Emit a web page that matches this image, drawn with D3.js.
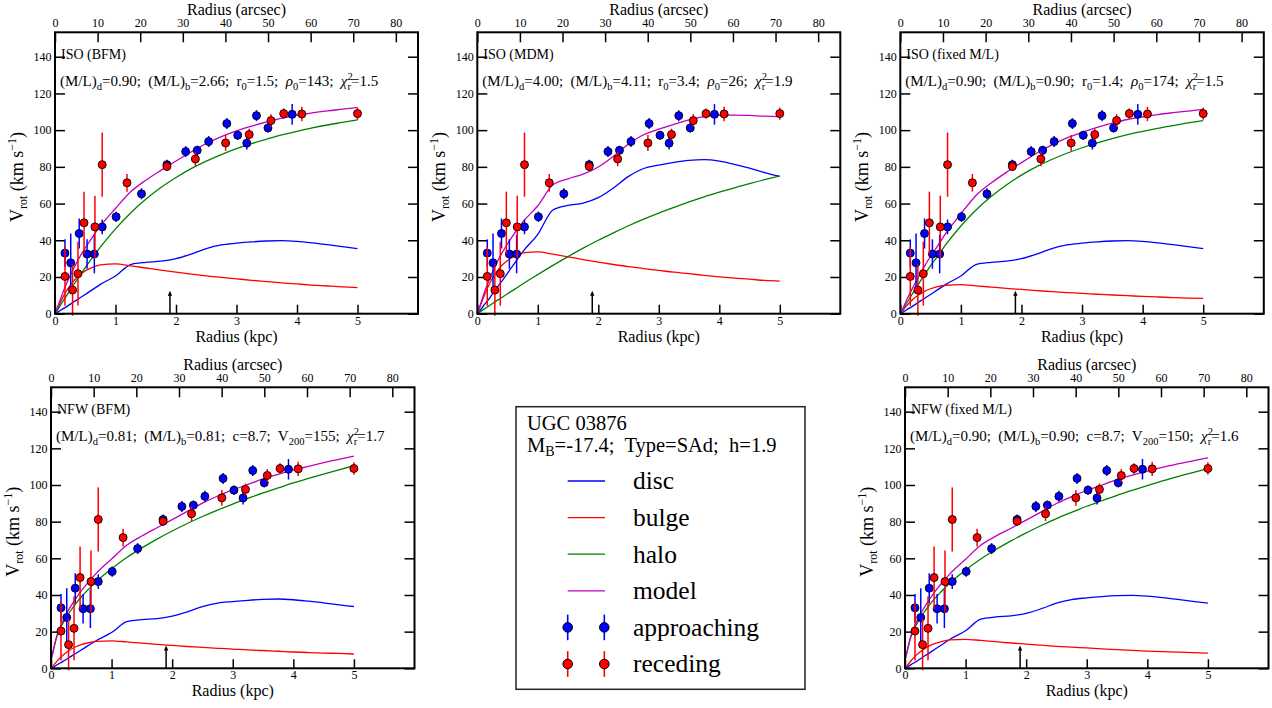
<!DOCTYPE html>
<html>
<head>
<meta charset="utf-8">
<script src="https://cdn.jsdelivr.net/npm/d3@7"></script>
<style>
  html, body { margin: 0; padding: 0; background: #fff; }
  svg { display: block; }
  svg text { font-family: "Liberation Serif", "Times New Roman", serif; fill: #000; }
</style>
</head>
<body>
<svg id="chart" width="1272" height="708" font-family="Liberation Serif"></svg>
<script>
// ---------------- data ----------------
const radiusGrid = [0.01,0.1,0.2,0.3,0.4,0.5,0.6,0.75,1.0,1.25,1.5,1.75,2.0,2.25,2.5,2.75,3.0,3.25,3.5,3.75,4.0,4.25,4.5,4.75,5.0];

const discML090 = [0,2,4,6.2,8.3,10.5,12.7,16,20.5,26.8,28,28.6,30,32.5,35.5,37.5,38.4,39.1,39.6,39.8,39.4,38.6,37.6,36.5,35.5];
const discML400 = [0,4.2,8.4,13.1,17.5,22.1,26.8,33.7,43.2,56.5,59.0,60.3,63.2,68.5,74.8,79.1,80.9,82.4,83.5,83.9,83.1,81.4,79.3,76.9,74.8];
const discML081 = [0,1.9,3.8,5.9,7.9,10.0,12.1,15.2,19.5,25.4,26.6,27.1,28.5,30.8,33.7,35.6,36.4,37.1,37.6,37.8,37.4,36.6,35.7,34.6,33.7];

const bulgeML266 = [0.5,7,13,17.5,21,23.3,25,26.6,27.1,26.1,24.9,23.7,22.6,21.6,20.6,19.8,19.0,18.2,17.5,16.8,16.2,15.6,15.1,14.6,14.2];
const bulgeML411 = [0.6,8.7,16.2,21.8,26.1,29.0,31.1,33.1,33.7,32.4,31.0,29.5,28.1,26.8,25.6,24.6,23.6,22.6,21.8,20.9,20.1,19.4,18.8,18.1,17.7];
const bulgeML090 = [0.3,4.1,7.6,10.2,12.2,13.6,14.6,15.5,15.8,15.2,14.5,13.8,13.2,12.6,12.0,11.5,11.1,10.6,10.2,9.8,9.4,9.1,8.8,8.5,8.3];
const bulgeML081 = [0.3,3.9,7.2,9.7,11.6,12.9,13.8,14.7,15.0,14.4,13.7,13.1,12.5,11.9,11.4,10.9,10.5,10.0,9.7,9.3,8.9,8.6,8.3,8.1,7.8];

const haloIsoBFM   = [0,5.2,10.3,15.3,20.3,25.1,29.7,36.3,46.2,54.9,62.3,68.7,74.2,79.0,83.1,86.7,89.9,92.7,95.1,97.4,99.3,101.2,102.8,104.2,105.6];
const haloIsoMDM   = [0.2,2.2,4.4,6.6,8.7,10.9,13.0,16.2,21.3,26.3,31.1,35.7,40.0,44.0,47.9,51.5,54.8,57.9,60.9,63.7,66.2,68.6,70.9,73.0,75.0];
const haloIsoFixed = [0,5.4,10.8,16.1,21.2,26.2,30.5,37.6,47.8,56.5,63.8,70.1,75.5,80.1,84.0,87.4,90.4,93.1,95.4,97.5,99.3,101.0,102.5,103.9,105.2];
const haloNfwBFM   = [5.6,17.6,24.8,30.3,34.9,38.9,42.5,47.4,54.3,60.4,65.7,70.5,74.9,79.0,82.8,86.3,89.6,92.7,95.7,98.4,101.1,103.6,106.0,108.3,110.5];
const haloNfwFixed = [5.5,17.4,24.5,29.9,34.4,38.4,41.9,46.8,53.6,59.6,64.8,69.5,73.9,77.9,81.7,85.1,88.4,91.4,94.4,97.1,99.7,102.2,104.6,106.8,109.0];

const modelIsoBFM   = [0.5,8.9,17.1,24.1,30.4,35.8,40.8,47.8,57.3,66.4,72.7,78.1,83.2,88.1,92.7,96.5,99.6,102.2,104.5,106.6,108.0,109.4,110.5,111.4,112.3];
const modelIsoMDM   = [0.6,9.9,18.8,26.3,32.6,38.1,43.1,49.9,58.8,70.2,73.5,76.0,79.9,85.7,92.4,97.5,100.5,103.2,105.6,107.4,108.1,108.2,108.0,107.6,107.4];
const modelIsoFixed = [0.3,7.1,13.8,20.0,25.8,31.3,36.1,43.7,54.4,64.4,71.2,77.0,82.3,87.4,92.0,95.8,98.8,101.5,103.8,105.8,107.2,108.5,109.5,110.4,111.3];
const modelNfwBFM   = [5.6,18.1,26.1,32.4,37.6,42.2,46.3,51.9,59.6,67.1,72.2,76.7,81.1,85.6,90.1,94.0,97.3,100.3,103.3,105.8,108.2,110.2,112.2,114.0,115.8];
const modelNfwFixed = [5.5,18.0,26.0,32.2,37.4,42.1,46.2,51.8,59.5,67.1,72.1,76.4,80.8,85.3,89.9,93.7,97.0,100.0,102.9,105.4,107.6,109.6,111.5,113.2,114.9];

const approachR = [0.165,0.26,0.40,0.53,0.65,0.78,1.01,1.43,1.85,2.16,2.35,2.54,2.84,3.02,3.17,3.33,3.52,3.92];
const approachV = [33.0,27.7,43.7,32.5,32.5,47.3,52.8,65.3,81.2,88.3,89.0,93.8,103.6,97.2,92.9,107.9,101.2,108.6];
const approachE = [7.5,16,8.2,8,10.5,4,2.8,3,2.7,3,2.5,3,3,2.5,3.5,3,2.5,5.6];

const recedeR = [0.165,0.29,0.38,0.48,0.66,0.78,1.19,1.85,2.32,2.82,3.21,3.57,3.78,4.08,5.0];
const recedeV = [20.3,12.9,21.8,49.5,47.3,81.2,71.3,80.2,84.3,93.0,97.6,105.2,109.0,108.8,109.0];
const recedeE = [16,14,17.4,17,17,17.5,4.8,2.5,4,4.3,3.2,3.5,2.8,3.9,3.4];

const kpcTicks = [0,1,2,3,4,5];
const arcsecTicks = [0,10,20,30,40,50,60,70,80];
const velTicks = [0,20,40,60,80,100,120,140];
const xDomain = [0, 6];
const yDomain = [0, 153.3];
const arcsecPerKpc = 14.2;
const scaleLength = 1.9;
const arrowTop = 12.5;

const legendNames = ["disc","bulge","halo","model","approaching","receding"];
const colors = { disc: "#0000ff", bulge: "#ff0000", halo: "#008000", model: "#c000c0", approaching: "#0000ff", receding: "#ff0000" };

// parameter text segments: plain strings, {sub}, {sup}, {it}, {supsub:[sup,sub]}
const panels = [
  { box: [55, 32.3, 363, 281.4], title: "ISO (BFM)",
    params: ["(M/L)",{sub:"d"},"=0.90;  (M/L)",{sub:"b"},"=2.66;  r",{sub:"0"},"=1.5;  ",{it:"ρ"},{sub:"0"},"=143;  ",{it:"χ"},{supsub:["2","r"]},"=1.5"],
    disc: discML090, bulge: bulgeML266, halo: haloIsoBFM, model: modelIsoBFM },
  { box: [477.3, 32.3, 363, 281.4], title: "ISO (MDM)",
    params: ["(M/L)",{sub:"d"},"=4.00;  (M/L)",{sub:"b"},"=4.11;  r",{sub:"0"},"=3.4;  ",{it:"ρ"},{sub:"0"},"=26;  ",{it:"χ"},{supsub:["2","r"]},"=1.9"],
    disc: discML400, bulge: bulgeML411, halo: haloIsoMDM, model: modelIsoMDM },
  { box: [900.3, 32.3, 363.5, 281.4], title: "ISO (fixed M/L)",
    params: ["(M/L)",{sub:"d"},"=0.90;  (M/L)",{sub:"b"},"=0.90;  r",{sub:"0"},"=1.4;  ",{it:"ρ"},{sub:"0"},"=174;  ",{it:"χ"},{supsub:["2","r"]},"=1.5"],
    disc: discML090, bulge: bulgeML090, halo: haloIsoFixed, model: modelIsoFixed },
  { box: [51, 387.3, 363.5, 281], title: "NFW (BFM)",
    params: ["(M/L)",{sub:"d"},"=0.81;  (M/L)",{sub:"b"},"=0.81;  c=8.7;  V",{sub:"200"},"=155;  ",{it:"χ"},{supsub:["2","r"]},"=1.7"],
    disc: discML081, bulge: bulgeML081, halo: haloNfwBFM, model: modelNfwBFM },
  { box: [905, 387.3, 363.5, 281], title: "NFW (fixed M/L)",
    params: ["(M/L)",{sub:"d"},"=0.90;  (M/L)",{sub:"b"},"=0.90;  c=8.7;  V",{sub:"200"},"=150;  ",{it:"χ"},{supsub:["2","r"]},"=1.6"],
    disc: discML090, bulge: bulgeML090, halo: haloNfwFixed, model: modelNfwFixed }
];

const galaxyName = "UGC 03876";
const galaxyInfo = ["M",{sub:"B"},"=-17.4;  Type=SAd;  h=1.9"];

// ---------------- helpers ----------------
const svg = d3.select("#chart");

function richText(sel, segs, size, subSize) {
  sel.attr("xml:space", "preserve").style("white-space", "pre").attr("font-size", size);
  let shift = 0; // current baseline offset
  segs.forEach(s => {
    if (typeof s === "string") {
      sel.append("tspan").attr("dy", -shift).text(s); shift = 0;
    } else if (s.it) {
      sel.append("tspan").attr("dy", -shift).attr("font-style", "italic").text(s.it); shift = 0;
    } else if (s.sub) {
      sel.append("tspan").attr("dy", 4 - shift).attr("font-size", subSize).text(s.sub); shift = 4;
    } else if (s.sup) {
      sel.append("tspan").attr("dy", -6 - shift).attr("font-size", subSize).text(s.sup); shift = -6;
    } else if (s.supsub) {
      sel.append("tspan").attr("dy", -6 - shift).attr("font-size", subSize).text(s.supsub[0]);
      sel.append("tspan").attr("dy", 10).attr("dx", -subSize * 0.5).attr("font-size", subSize).text(s.supsub[1]);
      shift = 4;
    }
  });
  if (shift !== 0) sel.append("tspan").attr("dy", -shift).text("");
}

function styleAxis(g) {
  g.select(".domain").remove();
  g.selectAll(".tick line").attr("stroke", "#000").attr("stroke-width", 1.5);
  g.selectAll(".tick text").attr("font-family", "Liberation Serif, serif").attr("font-size", 12).attr("fill", "#000");
  g.attr("font-family", null).attr("font-size", null);
}

// ---------------- panels ----------------
panels.forEach(p => {
  const [x0, y0, w, h] = p.box;
  const g = svg.append("g").attr("transform", `translate(${x0},${y0})`);
  const xs = d3.scaleLinear().domain(xDomain).range([0, w]);
  const xa = d3.scaleLinear().domain([xDomain[0] * arcsecPerKpc, xDomain[1] * arcsecPerKpc]).range([0, w]);
  const ys = d3.scaleLinear().domain(yDomain).range([h, 0]);

  // axes (inward ticks)
  g.append("g").attr("transform", `translate(0,${h})`)
    .call(d3.axisBottom(xs).tickValues(kpcTicks).tickFormat(d3.format("d")).tickSize(-9).tickSizeOuter(0).tickPadding(2.5))
    .call(styleAxis);
  g.append("g")
    .call(d3.axisTop(xa).tickValues(arcsecTicks).tickFormat(d3.format("d")).tickSize(-10).tickSizeOuter(0).tickPadding(5.5))
    .call(styleAxis);
  g.append("g")
    .call(d3.axisLeft(ys).tickValues(velTicks).tickFormat(d3.format("d")).tickSize(-10).tickSizeOuter(0).tickPadding(3.5))
    .call(styleAxis);
  g.append("g").attr("transform", `translate(${w},0)`)
    .call(d3.axisRight(ys).tickValues(velTicks).tickFormat("").tickSize(-10).tickSizeOuter(0))
    .call(styleAxis);

  // axis titles
  g.append("text").attr("x", w / 2).attr("y", -17.5).attr("text-anchor", "middle").attr("font-size", 16).text("Radius (arcsec)");
  g.append("text").attr("x", w / 2).attr("y", h + 28).attr("text-anchor", "middle").attr("font-size", 16).text("Radius (kpc)");
  const yl = g.append("text").attr("transform", `translate(-32,${h / 2 + 4}) rotate(-90)`).attr("text-anchor", "middle")
    .attr("font-size", 18).attr("xml:space", "preserve").style("white-space", "pre");
  yl.append("tspan").text("V");
  yl.append("tspan").attr("font-size", 12).attr("dy", 4).text("rot");
  yl.append("tspan").attr("dy", -4).text(" (km s");
  yl.append("tspan").attr("font-size", 12).attr("dy", -7).text("−1");
  yl.append("tspan").attr("dy", 7).text(")");

  // curves
  const line = d3.line().x((d, i) => xs(radiusGrid[i])).y(d => ys(d)).curve(d3.curveMonotoneX);
  [["disc", p.disc], ["bulge", p.bulge], ["halo", p.halo], ["model", p.model]].forEach(([k, arr]) => {
    g.append("path").datum(arr).attr("d", line).attr("fill", "none")
      .attr("stroke", colors[k]).attr("stroke-width", 1.3);
  });

  // scale-length arrow
  g.append("line").attr("x1", xs(scaleLength)).attr("x2", xs(scaleLength))
    .attr("y1", ys(0)).attr("y2", ys(arrowTop) + 3).attr("stroke", "#000").attr("stroke-width", 1.5);
  g.append("path").attr("d", `M${xs(scaleLength) - 2.2},${ys(arrowTop) + 5} L${xs(scaleLength)},${ys(arrowTop)} L${xs(scaleLength) + 2.2},${ys(arrowTop) + 5} Z`).attr("fill", "#000");

  // data points with error bars
  function drawSeries(R, V, E, col) {
    const sg = g.append("g");
    sg.selectAll("line").data(R).join("line")
      .attr("x1", d => xs(d)).attr("x2", d => xs(d))
      .attr("y1", (d, i) => ys(V[i] - E[i])).attr("y2", (d, i) => ys(V[i] + E[i]))
      .attr("stroke", col).attr("stroke-width", 1.5);
    sg.selectAll("circle").data(R).join("circle")
      .attr("cx", d => xs(d)).attr("cy", (d, i) => ys(V[i])).attr("r", 4)
      .attr("fill", col).attr("stroke", "#000").attr("stroke-width", 0.9);
  }
  drawSeries(approachR, approachV, approachE, colors.approaching);
  drawSeries(recedeR, recedeV, recedeE, colors.receding);

  // frame
  g.append("rect").attr("width", w).attr("height", h).attr("fill", "none").attr("stroke", "#000").attr("stroke-width", 2);

  // panel labels
  g.append("text").attr("x", 6).attr("y", 27).attr("font-size", 14).text(p.title);
  richText(g.append("text").attr("x", 5).attr("y", 53.5), p.params, 15, 10.5);
});

// ---------------- legend ----------------
const lg = svg.append("g").attr("transform", "translate(516,406.7)");
lg.append("rect").attr("width", 289).attr("height", 282.6).attr("fill", "#fff").attr("stroke", "#222").attr("stroke-width", 1.5);
lg.append("text").attr("x", 11).attr("y", 23.5).attr("font-size", 20.5).text(galaxyName);
richText(lg.append("text").attr("x", 11).attr("y", 45.5), galaxyInfo, 20.5, 14);

const itemY = d3.scalePoint().domain(legendNames).range([74.3, 257.3]);
legendNames.forEach((name, i) => {
  const y = itemY(name);
  if (i < 4) {
    lg.append("line").attr("x1", 51.7).attr("x2", 89).attr("y1", y).attr("y2", y)
      .attr("stroke", colors[name]).attr("stroke-width", 1.3);
  } else {
    [51.7, 88.3].forEach(x => {
      lg.append("line").attr("x1", x).attr("x2", x).attr("y1", y - 12.8).attr("y2", y + 12.8)
        .attr("stroke", colors[name]).attr("stroke-width", 1.6);
      lg.append("circle").attr("cx", x).attr("cy", y).attr("r", 4.8)
        .attr("fill", colors[name]).attr("stroke", "#000").attr("stroke-width", 1);
    });
  }
  lg.append("text").attr("x", 117).attr("y", y + 8.5).attr("font-size", 25.5).text(name);
});
</script>
</body>
</html>
